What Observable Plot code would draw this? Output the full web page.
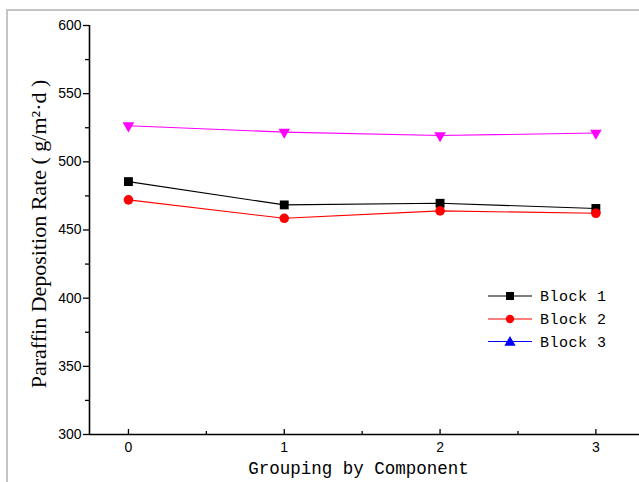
<!DOCTYPE html>
<html><head><meta charset="utf-8">
<script src="https://cdn.jsdelivr.net/npm/d3@7"></script>
<script src="https://cdn.jsdelivr.net/npm/@observablehq/plot@0.6"></script>
<style>
body{margin:0;background:#fff}
#wrap{position:relative;width:639px;height:482px;overflow:hidden;background:#fff}
#frame{position:absolute;left:6px;top:9px;width:700px;height:600px;border-left:2px solid #c4c4c4;border-top:2px solid #c4c4c4;box-sizing:border-box}
#wrap svg{position:absolute;left:0;top:0}
</style>
</head><body>
<div id="wrap"><div id="frame"></div></div>
<script>
const groups = [0, 1, 2, 3];
const seriesNames = ["Block 1", "Block 2", "Block 3"];
const block1 = [485.5, 468.4, 469.6, 465.8];
const block2 = [472.1, 458.6, 464.0, 462.3];
const block3 = [526.5, 521.8, 519.3, 521.1];
const seriesColors = ["#000000", "#ff0000", "#ff00ff"];
const legendColors = ["#000000", "#ff0000", "#0000ff"];
const yMajor = [300, 350, 400, 450, 500, 550, 600];
const yMinor = [325, 375, 425, 475, 525, 575];
const xMajor = [0, 1, 2, 3];
const xMinor = [0.5, 1.5, 2.5];
const xTitle = "Grouping by Component";
const yTitle = "Paraffin Deposition Rate ( g/m²·d )";

const W = 639, H = 482, mL = 89, mT = 25, mB = 48, mR = 0;
const xDomain = [-0.25, 3.28];
const plotH = H - mT - mB;

const values = [block1, block2, block3];
const data = seriesNames.flatMap((s, k) => groups.map((g, i) => ({series: s, x: g, y: values[k][i]})));
const sans = "'Liberation Sans', Arial, sans-serif";

const plot = Plot.plot({
  width: W, height: H,
  marginLeft: mL, marginTop: mT, marginBottom: mB, marginRight: mR,
  style: {background: "transparent", color: "#000"},
  x: {domain: xDomain},
  y: {domain: [300, 600]},
  color: {domain: seriesNames, range: seriesColors},
  marks: [
    Plot.axisY(yMajor, {tickSize: 6, tickPadding: 2, fontSize: 14, fontFamily: sans, label: null, strokeWidth: 1.3}),
    Plot.axisY(yMinor, {tickSize: 4, tickFormat: () => "", label: null, strokeWidth: 1.3}),
    Plot.axisX(xMajor, {tickSize: 0, tickPadding: 8, fontSize: 14, fontFamily: sans, label: null, tickFormat: d => String(d)}),
    Plot.tickX(xMajor, {x: d => d, insetTop: plotH - 5, strokeWidth: 1.3}),
    Plot.tickX(xMinor, {x: d => d, insetTop: plotH - 3, strokeWidth: 1.3}),
    Plot.ruleY([300], {strokeWidth: 1.6}),
    Plot.ruleX([xDomain[0]], {y1: 300, y2: 600, strokeWidth: 1.6}),
    Plot.line(data, {x: "x", y: "y", z: "series", stroke: "series", strokeWidth: 1.1}),
    Plot.dot(data.filter(d => d.series === seriesNames[0]), {x: "x", y: "y", symbol: "square", r: 5, fill: seriesColors[0], stroke: "none"}),
    Plot.dot(data.filter(d => d.series === seriesNames[1]), {x: "x", y: "y", symbol: "circle", r: 4.8, fill: seriesColors[1], stroke: "none"}),
    Plot.dot(data.filter(d => d.series === seriesNames[2]), {x: "x", y: "y", symbol: "triangle", r: 4.3, rotate: 180, fill: seriesColors[2], stroke: "none"}),
    Plot.text([xTitle], {text: d => d, frameAnchor: "bottom", dy: 39, dx: -6, fontSize: 17.5, fontWeight: 500, fontFamily: "'Liberation Mono', monospace"}),
    Plot.text([yTitle], {text: d => d, frameAnchor: "left", textAnchor: "middle", dx: -51, dy: 4, rotate: -90, fontSize: 22, fontFamily: "'Liberation Serif', serif"})
  ]
});
document.getElementById("wrap").appendChild(plot);

// legend
const legSvg = d3.select("#wrap").append("svg").attr("width", W).attr("height", H);
const legX0 = 488, legX1 = 532, legMark = 510, legText = 540, legY = [296, 319, 341.5];
const symbols = [d3.symbolSquare, d3.symbolCircle, d3.symbolTriangle];
const symSize = [64, 55, 55];
seriesNames.forEach((s, i) => {
  const g = legSvg.append("g");
  g.append("line").attr("x1", legX0).attr("x2", legX1).attr("y1", legY[i]).attr("y2", legY[i])
    .attr("stroke", legendColors[i]).attr("stroke-width", 1.2);
  g.append("path").attr("d", d3.symbol(symbols[i], symSize[i])())
    .attr("transform", `translate(${legMark},${legY[i] + (i === 2 ? 1 : 0)})`).attr("fill", legendColors[i]);
  g.append("text").attr("x", legText).attr("y", legY[i]).attr("dy", "0.35em")
    .attr("font-family", "'Liberation Mono', monospace").attr("font-size", 15).attr("letter-spacing", 0.5)
    .attr("fill", "#000").text(s);
});
</script>
</body></html>
